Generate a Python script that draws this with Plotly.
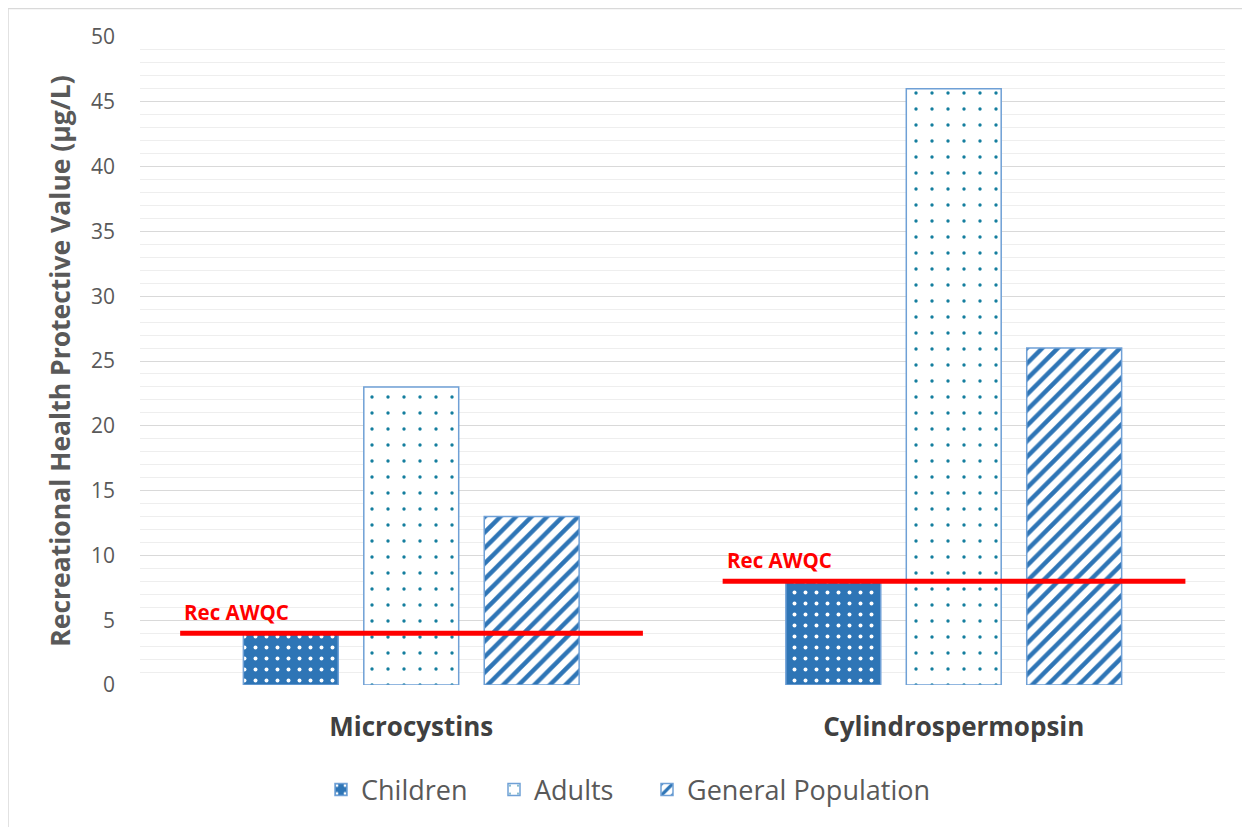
import plotly.graph_objects as go

categories = ["Microcystins", "Cylindrospermopsin"]
children = [4, 8]
adults = [23, 46]
general_population = [13, 26]
rec_awqc = [4, 8]
y_ticks = [0, 5, 10, 15, 20, 25, 30, 35, 40, 45, 50]

OFF = 8  # page body margin
W, H = 1242, 819
L, R, T, B = 132, 25, 29, 142
pw, ph = W - L - R, H - T - B

def px(x):  # reference page pixel -> paper
    return (x - OFF - L) / pw

def py(y):
    return (H - B - (y - OFF)) / ph

FONT = "Open Sans"
GRAY = "#595959"
BORDER = "#6fa0d6"
BLUE = "#2E75B6"

fig = go.Figure()
fig.add_trace(go.Bar(
    name="Children", x=categories, y=children, legend="legend", showlegend=True,
    marker=dict(color=BLUE, line=dict(color=BORDER, width=1.5),
                pattern=dict(shape=".", fgcolor="white", bgcolor=BLUE,
                             size=11, solidity=0.1, fillmode="replace")),
))
fig.add_trace(go.Bar(
    name="Adults", x=categories, y=adults, legend="legend2", showlegend=True,
    marker=dict(color="white", line=dict(color=BORDER, width=1.5),
                pattern=dict(shape=".", fgcolor="#147e9e", bgcolor="white",
                             size=16, solidity=0.035, fillmode="replace")),
))
fig.add_trace(go.Bar(
    name="General Population", x=categories, y=general_population, legend="legend3",
    showlegend=True,
    marker=dict(color="white", line=dict(color=BORDER, width=1.5),
                pattern=dict(shape="/", fgcolor=BLUE, bgcolor="white",
                             size=11, solidity=0.4, fillmode="replace")),
))

shapes = []
annotations = []
for i, v in enumerate(rec_awqc):
    shapes.append(dict(type="line", xref="x", yref="y", x0=i - 0.426, x1=i + 0.427,
                       y0=v, y1=v, line=dict(color="#FF0000", width=5), layer="above"))
    annotations.append(dict(xref="x", yref="y", x=i - 0.422, y=v, text="<b>Rec AWQC</b>",
                            showarrow=False, xanchor="left", yanchor="bottom", yshift=5,
                            font=dict(family=FONT, size=20.5, color="#FF0000")))

shapes.append(dict(type="rect", xref="paper", yref="paper", x0=px(8), x1=px(1300),
                   y0=py(900), y1=py(8.5), line=dict(color="#d9d9d9", width=1.5),
                   layer="below"))

def leg(text_left):
    return dict(orientation="h", x=px(text_left - 41), xanchor="left", y=py(790),
                yanchor="middle", font=dict(family=FONT, size=27, color=GRAY),
                itemwidth=30, bgcolor="rgba(0,0,0,0)", visible=True)

fig.update_layout(
    width=W, height=H,
    margin=dict(l=L, r=R, t=T, b=B, autoexpand=False),
    paper_bgcolor="white", plot_bgcolor="white",
    showlegend=True,
    barmode="group", bargap=0.334, bargroupgap=0.212,
    font=dict(family=FONT, color=GRAY),
    shapes=shapes, annotations=annotations,
    legend=leg(362), legend2=leg(535), legend3=leg(688),
    xaxis=dict(showgrid=False, showline=False, ticks="", ticklabelstandoff=24,
               tickfont=dict(family=FONT, size=26, color="#404040", weight="bold")),
    yaxis=dict(range=[0, 50], tickvals=y_ticks, showline=False, zeroline=False,
               gridcolor="#d9d9d9", gridwidth=1, ticks="", ticklabelstandoff=24,
               tickfont=dict(family=FONT, size=21, color=GRAY),
               minor=dict(dtick=1, showgrid=True, gridcolor="#eeeeee", gridwidth=1),
               title=dict(text="<b>Recreational Health Protective Value (µg/L)</b>",
                          font=dict(family=FONT, size=26.5, color=GRAY), standoff=12)),
)

fig.write_html("out.html")
